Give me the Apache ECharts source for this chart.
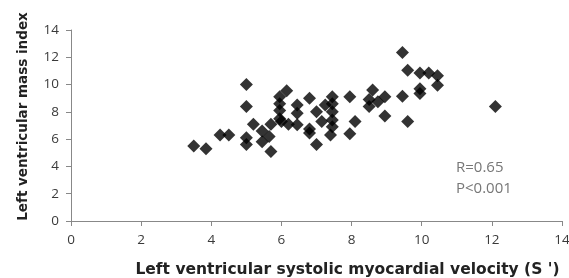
<!DOCTYPE html>
<html>
<head>
<meta charset="utf-8">
<script src="https://cdn.jsdelivr.net/npm/echarts@6/dist/echarts.min.js"></script>
<style>
  html, body { margin: 0; padding: 0; background: #fff; }
  #chart { width: 569px; height: 278px; }
</style>
</head>
<body>
<div id="chart"></div>
<script>
// velocity S' (x) and mass index (y)
const velocity = [3.5, 3.85, 4.25, 4.5, 5.0, 5.0, 5.0, 5.0, 5.2, 5.45, 5.45, 5.65, 5.7, 5.7,
  5.95, 5.95, 5.95, 5.95, 6.15, 6.2, 6.0, 6.45, 6.45, 6.45, 6.8, 6.8, 6.8, 7.0, 7.0, 7.15, 7.25,
  7.45, 7.45, 7.45, 7.45, 7.45, 7.4, 7.95, 7.95, 8.1, 8.5, 8.5, 8.6, 8.75, 8.95, 8.95,
  9.45, 9.45, 9.6, 9.6, 9.95, 9.95, 9.95, 10.2, 10.45, 10.45, 12.1];
const massIndex = [5.5, 5.3, 6.3, 6.3, 10.0, 8.4, 6.1, 5.6, 7.1, 6.6, 5.8, 6.2, 5.1, 7.1,
  9.1, 8.6, 8.1, 7.5, 9.55, 7.1, 7.3, 8.5, 7.9, 7.05, 9.0, 6.75, 6.45, 8.0, 5.6, 7.3, 8.5,
  9.1, 8.6, 8.0, 7.4, 6.9, 6.3, 9.1, 6.4, 7.3, 8.9, 8.4, 9.6, 8.75, 9.1, 7.7,
  12.35, 9.15, 11.05, 7.3, 10.85, 9.7, 9.35, 10.85, 10.65, 9.95, 8.4];
const xTicks = [0, 14, 2];
const yTicks = [0, 14, 2];
const statLines = ['R=0.65', 'P<0.001'];

const points = velocity.map((v, i) => [v, massIndex[i]]);

const font = '"Open Sans", "Noto Sans", sans-serif';
const nameFont = '"DejaVu Sans", sans-serif';

const option = {
  animation: false,
  grid: { left: 71, right: 7, top: 30, bottom: 57, outerBoundsMode: 'none' },
  xAxis: {
    type: 'value',
    min: xTicks[0], max: xTicks[1], interval: xTicks[2],
    name: "Left ventricular systolic myocardial velocity (S ')",
    nameLocation: 'middle',
    nameGap: 41,
    nameTextStyle: { fontFamily: nameFont, fontWeight: 'bold', fontSize: 15.5, color: '#222', padding: [0, 0, 0, 62] },
    axisLine: { lineStyle: { color: '#888' } },
    axisTick: { inside: false, length: 5, lineStyle: { color: '#888' } },
    axisLabel: { fontFamily: font, fontSize: 13.5, color: '#3a3a3a', margin: 12 },
    splitLine: { show: false }
  },
  yAxis: {
    type: 'value',
    min: yTicks[0], max: yTicks[1], interval: yTicks[2],
    name: 'Left ventricular mass index',
    nameLocation: 'middle',
    nameGap: 41,
    nameTextStyle: { fontFamily: nameFont, fontWeight: 'bold', fontSize: 13.5, color: '#222', padding: [0, 0, 0, 18] },
    axisLine: { show: true, lineStyle: { color: '#888' } },
    axisTick: { show: true, inside: false, length: 5, lineStyle: { color: '#888' } },
    axisLabel: { fontFamily: font, fontSize: 13.5, color: '#3a3a3a', margin: 12 },
    splitLine: { show: false }
  },
  graphic: [{
    type: 'text',
    left: 456, top: 157,
    style: { text: statLines.join('\n'), fontFamily: font, fontSize: 15, lineHeight: 21, fill: '#777' }
  }],
  series: [{
    type: 'scatter',
    data: points,
    symbol: 'diamond',
    symbolSize: 13,
    itemStyle: { color: '#000' }
  }]
};

const chart = echarts.init(document.getElementById('chart'));
chart.setOption(option);
</script>
</body>
</html>
